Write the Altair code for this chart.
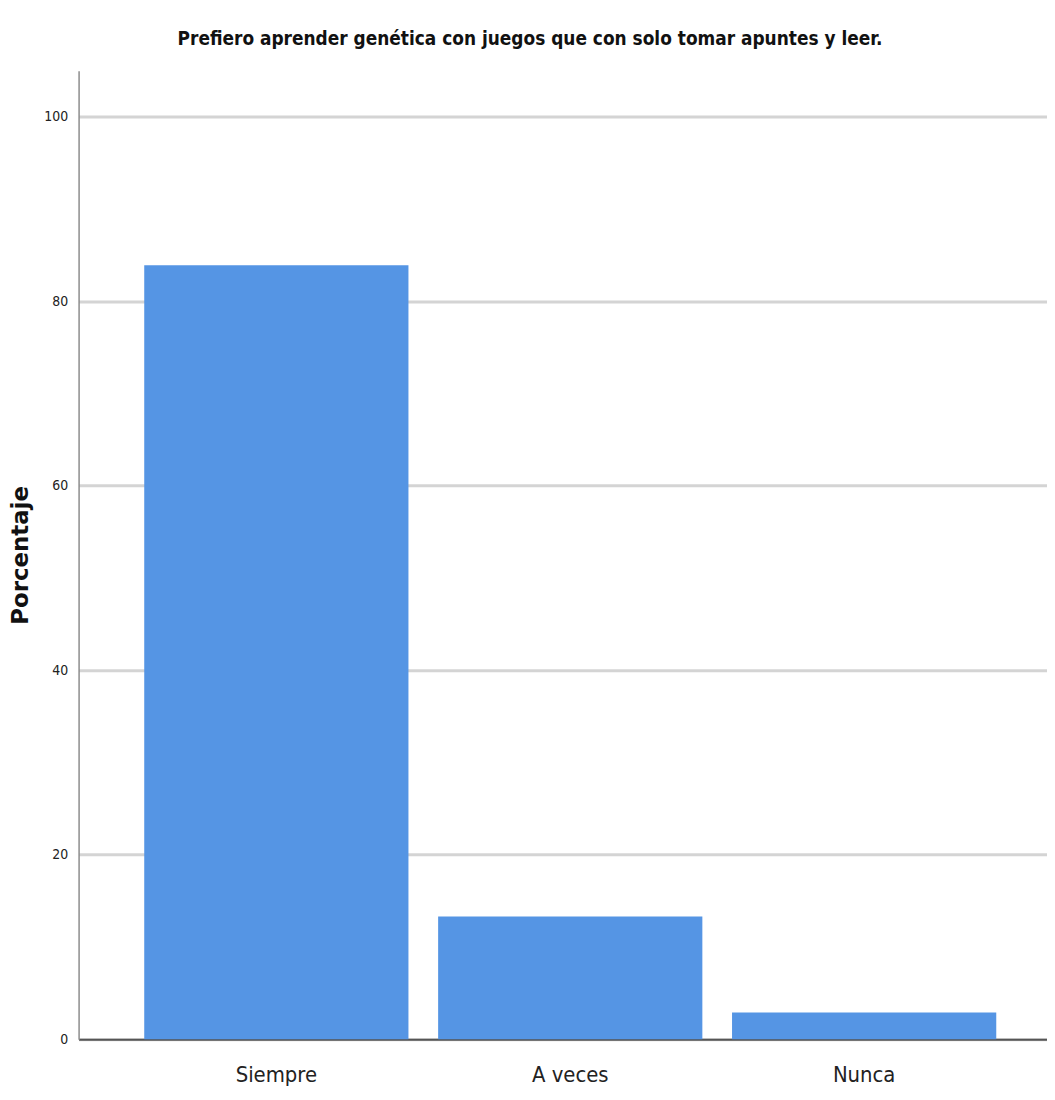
import altair as alt
import pandas as pd

categories = ["Siempre", "A veces", "Nunca"]
percentages = [83.9, 13.3, 2.9]
y_ticks = [0, 20, 40, 60, 80, 100]

df = pd.DataFrame({"categoria": categories, "porcentaje": percentages})

NARROW = "Liberation Sans Narrow, DejaVu Sans Condensed, Arial Narrow, sans-serif"

chart = alt.Chart(df).mark_bar(color="#5595e4").encode(
    x=alt.X(
        "categoria:N",
        sort=categories,
        title=None,
        scale=alt.Scale(paddingInner=0.101, paddingOuter=0.198, align=0.564),
        axis=alt.Axis(
            labelAngle=0,
            labelFont=NARROW,
            labelFontSize=22,
            labelColor="#222222",
            labelPadding=26,
            ticks=False,
            domainColor="#555555",
            domainWidth=2,
            grid=False,
        ),
    ),
    y=alt.Y(
        "porcentaje:Q",
        title="Porcentaje",
        scale=alt.Scale(domain=[0, 105], nice=False),
        axis=alt.Axis(
            values=y_ticks,
            labelFont=NARROW,
            labelFontSize=14,
            labelColor="#222222",
            labelPadding=11,
            ticks=False,
            domainColor="#8c8c8c",
            domainWidth=1.5,
            gridColor="#d4d4d4",
            gridWidth=3,
            titleFont="DejaVu Sans",
            titleFontWeight="bold",
            titleFontSize=23,
            titleColor="#111111",
            titleX=-46,
            titleY=487,
            titleAlign="center",
            titleBaseline="bottom",
        ),
    ),
).properties(
    width=974,
    height=974,
    title=alt.TitleParams(
        "Prefiero aprender genética con juegos que con solo tomar apuntes y leer.",
        font=NARROW,
        fontSize=19,
        fontWeight="bold",
        color="#111111",
        anchor="middle",
        dx=-33,
        offset=22,
    ),
    autosize=alt.AutoSizeParams(type="none"),
    padding={"left": 71, "top": 60, "right": 0, "bottom": 44},
).configure_view(stroke=None)

chart.save("out.html", embed_options={"renderer": "svg", "actions": False})
